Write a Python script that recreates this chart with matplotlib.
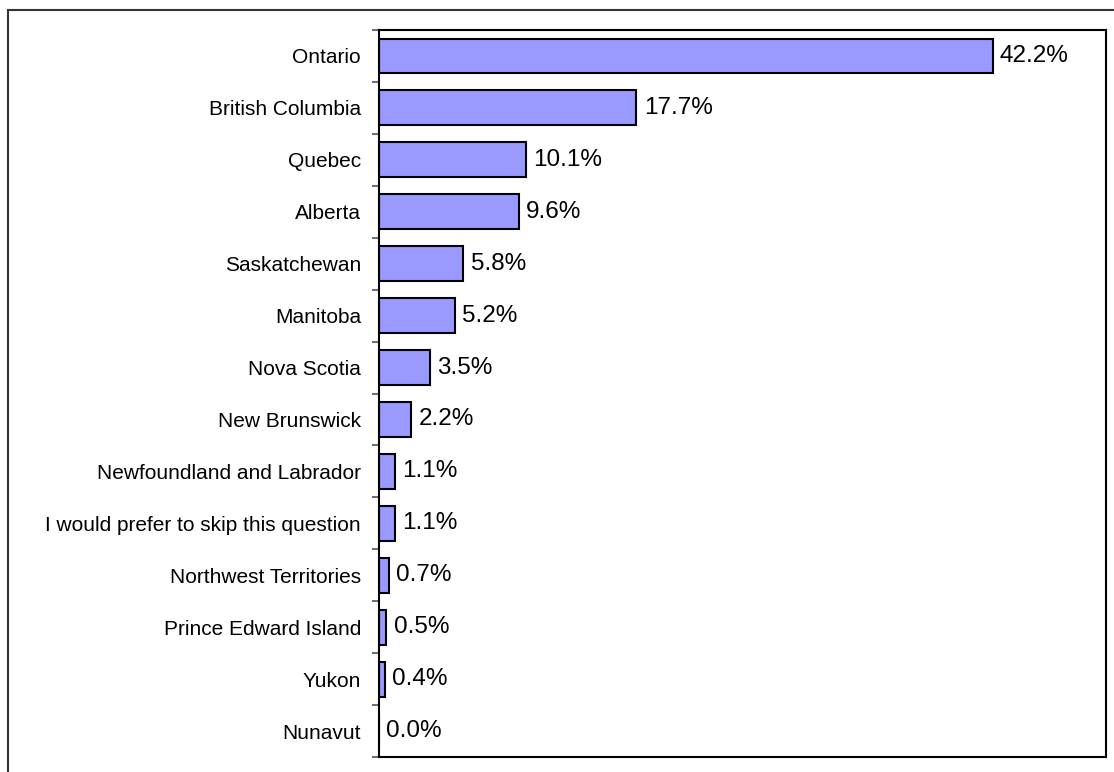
import matplotlib.pyplot as plt
from matplotlib.patches import Rectangle

plt.rcParams['font.family'] = ['Liberation Sans', 'DejaVu Sans']

provinces = ['Ontario', 'British Columbia', 'Quebec', 'Alberta', 'Saskatchewan',
             'Manitoba', 'Nova Scotia', 'New Brunswick', 'Newfoundland and Labrador',
             'I would prefer to skip this question', 'Northwest Territories',
             'Prince Edward Island', 'Yukon', 'Nunavut']
shares = [42.2, 17.7, 10.1, 9.6, 5.8, 5.2, 3.5, 2.2, 1.1, 1.1, 0.7, 0.5, 0.4, 0.0]

fig = plt.figure(figsize=(11.14, 7.72), dpi=100)
ax = fig.add_axes([379 / 1114, 1 - 757 / 772, 727 / 1114, 727 / 772])

positions = list(range(len(provinces)))
ax.barh(positions, shares, height=0.67, color='#9999FF', edgecolor='black', linewidth=1.5)
for pos, val in zip(positions, shares):
    ax.text(val + 0.5, pos, f'{val:.1f}%', va='center', ha='left', fontsize=17.5)

ax.set_xlim(0, 50)
ax.set_ylim(len(provinces) - 0.5, -0.5)
ax.set_yticks(positions)
ax.set_yticklabels(provinces, fontsize=15)
ax.set_yticks([p - 0.5 for p in positions] + [len(provinces) - 0.5], minor=True)
ax.tick_params(axis='y', which='major', length=0, pad=13)
ax.tick_params(axis='y', which='minor', length=5, width=1.2, color='#555555')
ax.set_xticks([])
for sp in ax.spines.values():
    sp.set_linewidth(1.5)

fig.patches.append(Rectangle((8 / 1114, -0.05), 1.1, 1 - 10 / 772 + 0.05,
                             transform=fig.transFigure, fill=False,
                             edgecolor='#333333', linewidth=1.5))

fig.savefig('out.png', dpi=100)
